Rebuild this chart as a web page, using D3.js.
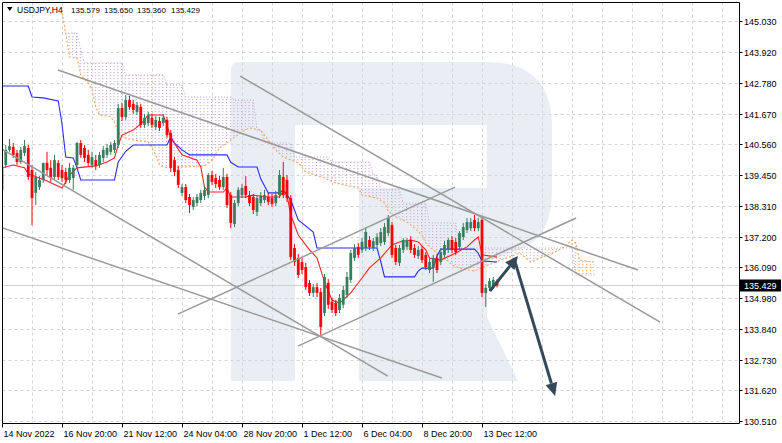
<!DOCTYPE html>
<html><head><meta charset="utf-8">
<script src="https://cdn.jsdelivr.net/npm/d3@7"></script>
<style>html,body{margin:0;padding:0;background:#fff;}svg{display:block;font-family:"Liberation Sans",Arial,sans-serif;}</style>
</head><body><svg id="chart" width="782" height="443"></svg>
<script>
// ---------------- DATA ----------------
const symbolTitle = "USDJPY,H4";
const titleValues = ["135.579", "135.650", "135.360", "135.429"];
const lastPrice = 135.429;
const priceTicks = [145.030, 143.920, 142.780, 141.670, 140.560, 139.450, 138.310, 137.200, 136.090, 134.980, 133.840, 132.730, 131.620, 130.510];
const timeTickBars = [0, 16, 32, 48, 64, 80, 96, 112, 128];
const timeTickLabels = ["14 Nov 2022", "16 Nov 20:00", "21 Nov 12:00", "24 Nov 04:00", "28 Nov 20:00", "1 Dec 12:00", "6 Dec 04:00", "8 Dec 20:00", "13 Dec 12:00"];

const opens = [138.90,139.80,140.35,140.46,140.24,139.91,140.24,140.42,139.62,138.79,
139.00,139.26,139.88,139.70,139.37,139.88,139.62,139.55,139.26,139.33,
139.80,140.60,140.42,140.17,139.80,139.98,139.80,140.06,140.17,140.28,
140.35,140.53,141.87,141.55,142.16,142.02,141.73,141.91,141.26,141.33,
141.51,141.18,141.40,141.33,141.44,140.96,139.98,139.62,138.79,139.00,
138.64,138.28,138.42,138.53,138.68,138.71,139.44,139.33,139.26,139.00,
139.37,138.71,137.66,138.42,138.71,139.04,138.71,138.64,138.10,138.42,
138.53,138.64,138.60,138.42,138.71,139.37,139.26,138.60,136.79,136.43,
136.28,136.10,135.52,135.16,135.37,135.19,134.43,135.52,134.84,134.80,
134.54,134.73,135.09,135.63,136.43,136.83,136.72,136.79,137.08,136.79,
136.90,136.97,137.01,137.33,137.62,136.79,136.25,136.72,136.83,137.08,
136.79,136.50,136.75,136.54,135.99,136.06,136.43,136.28,136.54,136.72,
137.08,137.01,136.83,137.19,137.44,137.51,137.81,137.51,137.81,135.16,
135.34,135.41,135.579];
const highs = [139.98,140.53,140.75,140.60,140.35,140.46,140.71,140.53,139.80,139.55,
139.40,139.88,140.28,139.98,140.17,139.98,139.80,139.70,139.88,139.80,
140.64,140.71,140.53,140.35,140.28,140.17,140.28,140.49,140.57,140.64,
140.71,142.02,142.05,142.34,142.31,142.16,142.09,142.02,141.66,141.73,
141.66,141.58,141.55,141.66,141.55,141.07,140.09,139.77,139.11,139.11,
138.75,138.64,138.75,138.90,139.04,139.51,139.59,139.48,139.40,139.70,
139.48,138.82,138.53,139.00,139.11,139.40,138.86,138.75,138.68,138.82,
138.90,138.79,138.75,138.86,139.62,139.91,139.44,138.71,136.93,136.57,
136.43,136.25,135.63,135.48,135.52,135.34,135.85,135.66,134.98,134.90,
135.12,135.41,135.92,136.72,136.93,136.97,137.15,137.51,137.22,137.15,
137.33,137.51,137.70,137.99,137.73,136.90,136.90,137.15,137.15,137.22,
136.93,136.86,136.86,136.64,136.43,136.54,136.57,136.79,137.04,137.15,
137.22,137.15,137.40,137.70,137.88,137.88,137.99,137.88,137.95,135.48,
135.70,135.74,135.650];
const lows = [138.71,139.70,140.28,140.06,139.80,139.84,140.13,139.26,137.62,138.35,
138.90,139.15,139.44,139.19,139.26,139.26,139.19,139.11,139.15,138.90,
139.73,140.06,139.91,139.77,139.70,139.62,139.70,139.91,140.06,140.17,
140.24,140.42,141.40,141.44,141.80,141.66,141.62,141.15,141.15,141.22,
141.15,141.07,141.04,141.22,140.78,139.55,139.40,138.97,138.68,138.42,
138.06,138.17,138.31,138.42,138.53,138.60,139.08,138.97,138.90,138.90,
138.24,137.51,137.55,138.31,138.60,138.60,138.31,138.02,137.95,138.31,
138.42,138.35,138.28,138.31,138.60,138.60,138.46,136.35,136.14,135.70,
135.85,135.27,135.05,135.01,135.01,133.64,134.32,134.58,134.43,134.32,
134.43,134.61,134.98,135.52,136.32,136.43,136.61,136.68,136.72,136.68,
136.79,136.86,136.90,137.22,136.43,136.17,136.14,136.61,136.72,136.61,
136.43,136.39,136.25,135.99,135.88,135.56,135.88,136.17,136.43,136.61,
136.61,136.54,136.72,137.08,137.33,137.40,137.40,137.40,135.01,134.65,
135.23,135.30,135.360];
const closes = [139.70,140.35,140.49,140.17,139.91,140.35,140.49,139.37,138.60,139.37,
139.26,139.88,139.62,139.33,139.98,139.37,139.33,139.26,139.70,139.70,
140.60,140.17,140.06,139.88,140.09,139.77,140.17,140.35,140.42,140.53,
140.60,141.87,141.55,142.16,141.91,141.80,141.98,141.26,141.51,141.62,
141.26,141.44,141.15,141.51,140.89,139.70,139.55,139.08,139.00,138.53,
138.35,138.53,138.64,138.79,138.90,139.44,139.19,139.11,139.00,139.37,
138.35,137.70,138.42,138.90,138.97,138.71,138.42,138.17,138.60,138.68,
138.71,138.46,138.39,138.71,139.44,138.71,138.60,136.46,136.28,135.81,
135.99,135.37,135.16,135.37,135.16,133.92,135.74,134.73,134.54,134.43,
134.98,135.27,135.74,136.61,136.79,136.54,137.01,137.37,136.83,137.04,
137.19,137.37,137.55,137.88,136.54,136.28,136.79,137.08,137.08,136.72,
136.54,136.72,136.35,136.10,136.28,136.43,135.99,136.64,136.90,137.08,
136.72,136.64,137.33,137.55,137.73,137.73,137.51,137.73,135.16,135.34,
135.59,135.63,135.429];

// Ichimoku lines as [bar, price] points
const tenkan = [[0,139.70],[3,139.80],[6,139.70],[7,139.48],[10,139.33],[12,139.22],[16,138.97],[17,139.19],[18,139.44],[20,139.70],[25,139.77],[28,139.91],[30,140.06],[31,140.53],[32,140.89],[35,141.07],[37,141.29],[39,141.62],[43,141.62],[44,141.25],[45,140.78],[48,140.17],[52,139.98],[53,139.73],[54,139.00],[55,138.82],[59,138.82],[60,138.97],[61,138.64],[65,138.64],[67,138.71],[71,138.64],[74,138.64],[75,138.86],[76,138.71],[77,137.99],[79,137.26],[82,136.72],[84,136.43],[86,135.56],[88,134.90],[90,134.79],[93,135.16],[95,135.52],[98,136.07],[101,136.43],[104,136.90],[106,137.01],[109,137.08],[111,137.01],[113,136.72],[114,136.43],[117,136.35],[121,136.61],[124,136.83],[126,137.08],[127,137.19],[128,136.54],[132,136.46]];
const kijun = [[0,142.67],[7,142.67],[8,142.27],[11,142.24],[15,142.13],[16,141.30],[17,140.09],[19,140.06],[20,139.70],[21,139.26],[30,139.26],[31,139.91],[33,140.30],[35,140.53],[44,140.53],[45,140.82],[46,140.60],[48,140.35],[50,140.17],[60,140.17],[61,139.90],[63,139.73],[68,139.73],[69,139.30],[71,138.79],[74,138.79],[75,138.90],[76,138.71],[77,138.53],[79,137.81],[83,137.37],[84,136.79],[100,136.79],[101,136.30],[102,135.74],[110,135.74],[111,135.95],[112,136.06],[115,136.06],[116,136.50],[117,136.75],[126,136.75],[127,136.60],[128,136.32],[132,136.28]];
const spanA = [[16,145.32],[17,144.59],[18,143.72],[20,143.69],[21,143.07],[23,142.78],[24,142.53],[25,141.91],[26,141.62],[29,141.55],[30,141.36],[31,141.00],[32,140.82],[35,140.71],[39,140.64],[41,140.17],[42,139.80],[44,139.70],[54,139.77],[56,139.98],[58,140.42],[61,140.71],[64,141.00],[66,141.15],[69,141.07],[71,140.71],[73,140.35],[75,140.09],[79,139.88],[81,139.55],[86,139.33],[89,139.15],[95,138.97],[96,138.71],[100,138.60],[102,138.42],[103,138.13],[105,137.91],[108,137.73],[110,137.51],[112,137.26],[113,136.97],[115,136.72],[117,136.50],[119,136.32],[120,136.17],[122,136.06],[126,135.95],[129,136.14],[133,136.35],[136,136.50],[138,136.61],[141,136.28],[144,136.46],[147,136.61],[150,136.83],[152,137.08],[153,136.97],[154,136.35],[158,136.28]];
const spanB = [[16,144.59],[20,144.59],[21,143.98],[22,143.51],[32,143.51],[33,143.07],[43,143.07],[44,142.71],[48,142.71],[49,142.27],[61,142.27],[62,142.16],[67,142.16],[68,141.07],[69,141.07],[70,140.60],[77,140.60],[78,140.09],[87,140.09],[88,139.91],[98,139.91],[99,139.44],[100,139.44],[101,138.90],[106,138.90],[107,138.42],[113,138.42],[114,137.70],[121,137.70],[122,136.79],[152,136.79],[153,135.81],[158,135.81]];

// hand-drawn analysis lines: [[bar, price], [bar, price]]
const trendLines = [
  [[14.9,143.25],[169.6,135.99]],
  [[63.5,143.03],[175.5,134.10]],
  [[-0.5,140.42],[102.9,132.14]],
  [[-0.5,137.55],[117.3,132.07]],
  [[78.9,133.23],[153.1,137.88]],
  [[46.9,134.39],[120.8,139.00]]
];
const forecastArrows = [
  [[130.1,135.23],[137.6,136.50]],
  [[136.5,136.43],[147.5,131.42]]
];

// ---------------- CHART ----------------
const svg = d3.select("#chart");
const L = 2.5, R = 739.5, T = 2.5, B = 423.5;
const x = d3.scaleLinear().domain([0, 196]).range([2, 2 + 3.75 * 196]);
const y = d3.scaleLinear().domain([130.51, 145.03]).range([421, 21]);

const defs = svg.append("defs");
defs.append("clipPath").attr("id", "plotClip").append("rect").attr("x", L).attr("y", T).attr("width", R - L).attr("height", B - T);
function hatch(id, color) {
  const p = defs.append("pattern").attr("id", id).attr("patternUnits", "userSpaceOnUse")
    .attr("x", 1).attr("y", 0).attr("width", 3.75).attr("height", 3);
  p.append("rect").attr("x", 0).attr("y", 0).attr("width", 1.1).attr("height", 1.2).attr("fill", color);
}
hatch("hatchB", "#cba5d8");
hatch("hatchA", "#f2a868");

svg.append("rect").attr("width", 782).attr("height", 443).attr("fill", "#fff");
const plot = svg.append("g").attr("clip-path", "url(#plotClip)");

// watermark
plot.append("path").attr("fill", "#e9eef4").attr("fill-rule", "evenodd")
  .attr("d", "M231,70 Q231,62 239,62 H487 Q552,62 552,127 V190 Q552,240 518,250 L487,262 V317 L518,381 H359 V188 H295 V381 H231 Z M295,125 H487 V188 H295 Z");

// grid
const gridG = plot.append("g").attr("stroke", "#d4d4d4").attr("stroke-dasharray", "3,3").attr("stroke-width", 1);
for (let b = 8; b <= 192; b += 8) {
  gridG.append("line").attr("x1", Math.round(x(b)) + 0.5).attr("x2", Math.round(x(b)) + 0.5).attr("y1", T).attr("y2", B);
}
priceTicks.forEach(p => {
  const yy = Math.round(y(p)) + 0.5;
  gridG.append("line").attr("x1", L).attr("x2", R).attr("y1", yy).attr("y2", yy);
});

// cloud hatch
const lineGen = d3.line().x(d => x(d[0])).y(d => y(d[1]));
const betweenPath = lineGen(spanA) + "L" + spanB.slice().reverse().map(d => x(d[0]) + "," + y(d[1])).join("L") + "Z";
function aboveClip(id, pts) {
  const d = lineGen(pts) + `L${x(pts[pts.length - 1][0])},0L${x(pts[0][0])},0Z`;
  defs.append("clipPath").attr("id", id).append("path").attr("d", d);
}
aboveClip("aboveA", spanA);
aboveClip("aboveB", spanB);
plot.append("g").attr("clip-path", "url(#aboveA)").append("path").attr("d", betweenPath).attr("fill", "url(#hatchB)");
plot.append("g").attr("clip-path", "url(#aboveB)").append("path").attr("d", betweenPath).attr("fill", "url(#hatchA)");

plot.append("path").attr("d", lineGen(spanB)).attr("fill", "none").attr("stroke", "#c99fd4").attr("stroke-width", 1).attr("stroke-dasharray", "1,2");
plot.append("path").attr("d", lineGen(spanA)).attr("fill", "none").attr("stroke", "#f4a460").attr("stroke-width", 1.1).attr("stroke-dasharray", "2,2");

// bid line
plot.append("line").attr("x1", L).attr("x2", R).attr("y1", Math.round(y(lastPrice)) + 0.5).attr("y2", Math.round(y(lastPrice)) + 0.5).attr("stroke", "#d0d0d0");

// tenkan / kijun
plot.append("path").attr("d", lineGen(kijun)).attr("fill", "none").attr("stroke", "#2a2aff").attr("stroke-width", 1.1);
plot.append("path").attr("d", lineGen(tenkan)).attr("fill", "none").attr("stroke", "#ff2020").attr("stroke-width", 1.1);

// candles
const bull = "#3a7d5e", bear = "#ff0000";
const cg = plot.append("g");
opens.forEach((o, i) => {
  const c = closes[i], col = c >= o ? bull : bear;
  const cx = x(i);
  cg.append("line").attr("x1", cx).attr("x2", cx).attr("y1", y(highs[i])).attr("y2", y(lows[i])).attr("stroke", col).attr("stroke-width", 1);
  const top = y(Math.max(o, c)), bot = y(Math.min(o, c));
  cg.append("rect").attr("x", cx - 1.4).attr("width", 2.8).attr("y", top).attr("height", Math.max(1, bot - top)).attr("fill", col);
});

// trend lines
trendLines.forEach(l => {
  plot.append("line").attr("x1", x(l[0][0])).attr("y1", y(l[0][1])).attr("x2", x(l[1][0])).attr("y2", y(l[1][1]))
    .attr("stroke", "#9a9a9a").attr("stroke-width", 1.5);
});
// arrows
const arrowCol = "#34495a";
forecastArrows.forEach(a => {
  const x1 = x(a[0][0]), y1 = y(a[0][1]), x2 = x(a[1][0]), y2 = y(a[1][1]);
  const ang = Math.atan2(y2 - y1, x2 - x1), hl = 13, hw = 6;
  const bx = x2 - hl * Math.cos(ang), by = y2 - hl * Math.sin(ang);
  plot.append("line").attr("x1", x1).attr("y1", y1).attr("x2", bx).attr("y2", by).attr("stroke", arrowCol).attr("stroke-width", 3);
  const px = -Math.sin(ang), py = Math.cos(ang);
  plot.append("path").attr("fill", arrowCol)
    .attr("d", `M${x2},${y2}L${bx + px * hw},${by + py * hw}L${bx - px * hw},${by - py * hw}Z`);
});

// frame
const frame = svg.append("g").attr("stroke", "#000").attr("stroke-width", 1);
frame.append("line").attr("x1", L).attr("x2", L).attr("y1", T).attr("y2", B);
frame.append("line").attr("x1", L).attr("x2", R).attr("y1", T).attr("y2", T);
frame.append("line").attr("x1", R).attr("x2", R).attr("y1", T).attr("y2", B);
frame.append("line").attr("x1", L).attr("x2", R).attr("y1", B).attr("y2", B);

// price axis
const pa = svg.append("g");
priceTicks.forEach(p => {
  const yy = Math.round(y(p)) + 0.5;
  pa.append("line").attr("x1", R).attr("x2", R + 3).attr("y1", yy).attr("y2", yy).attr("stroke", "#000");
  pa.append("text").attr("x", 744).attr("y", yy + 3.5).attr("font-size", 9).attr("fill", "#000").text(p.toFixed(3));
});
const by = Math.round(y(lastPrice)) + 0.5;
pa.append("rect").attr("x", 740).attr("y", by - 6).attr("width", 41).attr("height", 12).attr("fill", "#000");
pa.append("text").attr("x", 744).attr("y", by + 3.5).attr("font-size", 9).attr("fill", "#fff").text(lastPrice.toFixed(3));

// time axis
const ta = svg.append("g");
timeTickBars.forEach((b, k) => {
  const xx = Math.round(x(b)) + 0.5;
  ta.append("line").attr("x1", xx).attr("x2", xx).attr("y1", B).attr("y2", B + 4).attr("stroke", "#000");
  ta.append("text").attr("x", xx + 1).attr("y", 437).attr("font-size", 9).attr("fill", "#000").text(timeTickLabels[k]);
});

// title
svg.append("path").attr("d", "M7,7L12.5,7L9.75,11Z").attr("fill", "#000");
svg.append("text").attr("x", 17).attr("y", 13).attr("font-size", 8.5).attr("fill", "#000").text(symbolTitle);
const tvx = [71, 104, 137, 171];
titleValues.forEach((v, k) => svg.append("text").attr("x", tvx[k]).attr("y", 13).attr("font-size", 8).attr("fill", "#000").text(v));
</script></body></html>
